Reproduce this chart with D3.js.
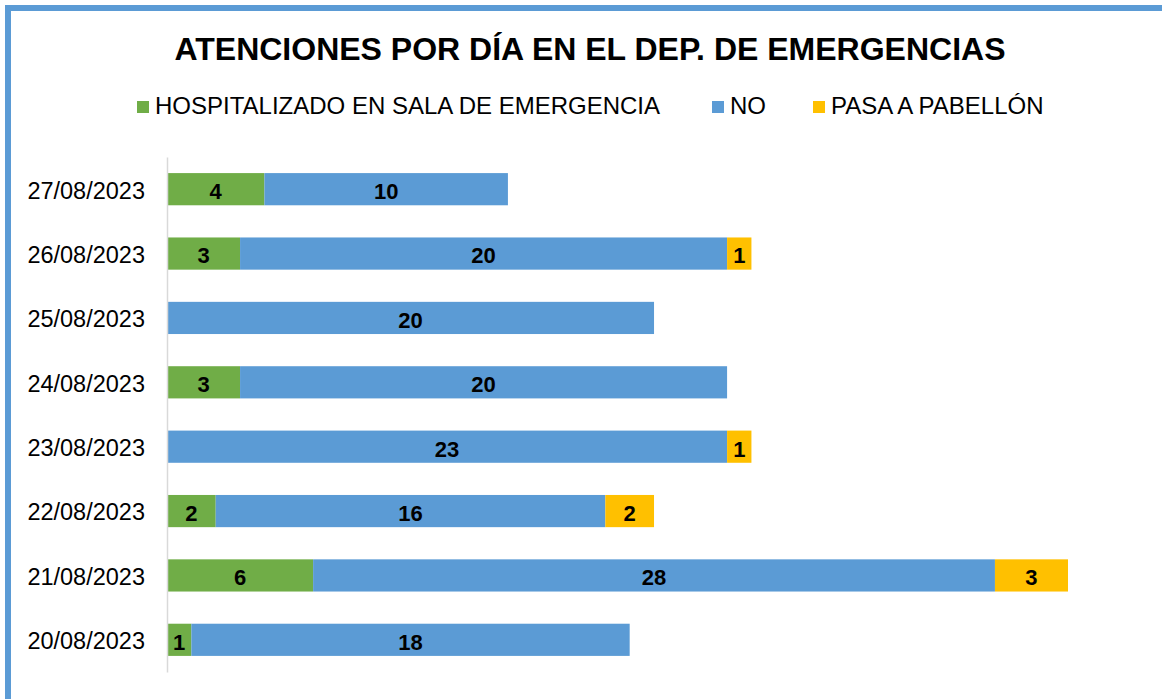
<!DOCTYPE html>
<html>
<head>
<meta charset="utf-8">
<script src="https://cdn.jsdelivr.net/npm/d3@7"></script>
<style>
  body { margin: 0; background: #fff; }
  svg { display: block; font-family: "Liberation Sans", Arial, sans-serif; }
</style>
</head>
<body>
<div id="chart"></div>
<script>
// chart data
const dates = ["27/08/2023", "26/08/2023", "25/08/2023", "24/08/2023",
               "23/08/2023", "22/08/2023", "21/08/2023", "20/08/2023"];
const hospitalizado = [4, 3, 0, 3, 0, 2, 6, 1];
const no = [10, 20, 20, 20, 23, 16, 28, 18];
const pabellon = [0, 1, 0, 0, 1, 2, 3, 0];
const seriesNames = ["HOSPITALIZADO EN SALA DE EMERGENCIA", "NO", "PASA A PABELLÓN"];
const colors = ["#70AD47", "#5B9BD5", "#FFC000"];

const width = 1162, height = 699;
const marginLeft = 167, marginTop = 157, marginBottom = 27;

const rows = dates.map((d, i) => ({
  date: d,
  [seriesNames[0]]: hospitalizado[i],
  [seriesNames[1]]: no[i],
  [seriesNames[2]]: pabellon[i]
}));

const stacked = d3.stack().keys(seriesNames)(rows);

const x = d3.scaleLinear()
  .domain([0, 37])
  .range([marginLeft, 1068]);

const y = d3.scaleBand()
  .domain(dates)
  .range([marginTop, height - marginBottom])
  .paddingInner(0.5)
  .paddingOuter(0.25);

const svg = d3.select("#chart")
  .append("svg")
  .attr("width", width)
  .attr("height", height);

// outer frame
svg.append("rect")
  .attr("x", 8).attr("y", 8)
  .attr("width", width + 20).attr("height", height + 20)
  .attr("fill", "none")
  .attr("stroke", "#5B9BD5")
  .attr("stroke-width", 6);

// title
svg.append("text")
  .attr("x", 590).attr("y", 60)
  .attr("text-anchor", "middle")
  .attr("font-size", 32)
  .attr("font-weight", "bold")
  .attr("fill", "#000")
  .text("ATENCIONES POR DÍA EN EL DEP. DE EMERGENCIAS");

// legend
const legendX = [137, 712, 813];
const legend = svg.append("g");
seriesNames.forEach((name, i) => {
  legend.append("rect")
    .attr("x", legendX[i]).attr("y", 101)
    .attr("width", 12).attr("height", 12)
    .attr("fill", colors[i]);
  legend.append("text")
    .attr("x", legendX[i] + 18).attr("y", 114)
    .attr("font-size", 24)
    .attr("fill", "#000")
    .text(name);
});

// bars
const layers = svg.append("g")
  .selectAll("g")
  .data(stacked)
  .join("g")
  .attr("fill", (d, i) => colors[i]);

layers.selectAll("rect")
  .data(d => d.filter(s => s[1] - s[0] > 0))
  .join("rect")
  .attr("x", d => x(d[0]))
  .attr("y", d => y(d.data.date))
  .attr("width", d => x(d[1]) - x(d[0]))
  .attr("height", y.bandwidth());

// value labels
layers.selectAll("text")
  .data(d => d.filter(s => s[1] - s[0] > 0))
  .join("text")
  .attr("x", d => (x(d[0]) + x(d[1])) / 2)
  .attr("y", d => y(d.data.date) + y.bandwidth() / 2)
  .attr("dy", "0.45em")
  .attr("text-anchor", "middle")
  .attr("font-size", 22)
  .attr("font-weight", "bold")
  .attr("fill", "#000")
  .text(d => d[1] - d[0]);

// y axis
svg.append("g")
  .attr("transform", `translate(${marginLeft},0)`)
  .call(d3.axisLeft(y).tickSize(0).tickPadding(22))
  .call(g => g.select(".domain").attr("stroke", "#D9D9D9").attr("stroke-width", 1.5))
  .call(g => g.selectAll("text")
    .attr("font-size", 23.5)
    .attr("dy", "0.4em")
    .attr("fill", "#000")
    .attr("font-family", "Liberation Sans, Arial, sans-serif"));
</script>
</body>
</html>
